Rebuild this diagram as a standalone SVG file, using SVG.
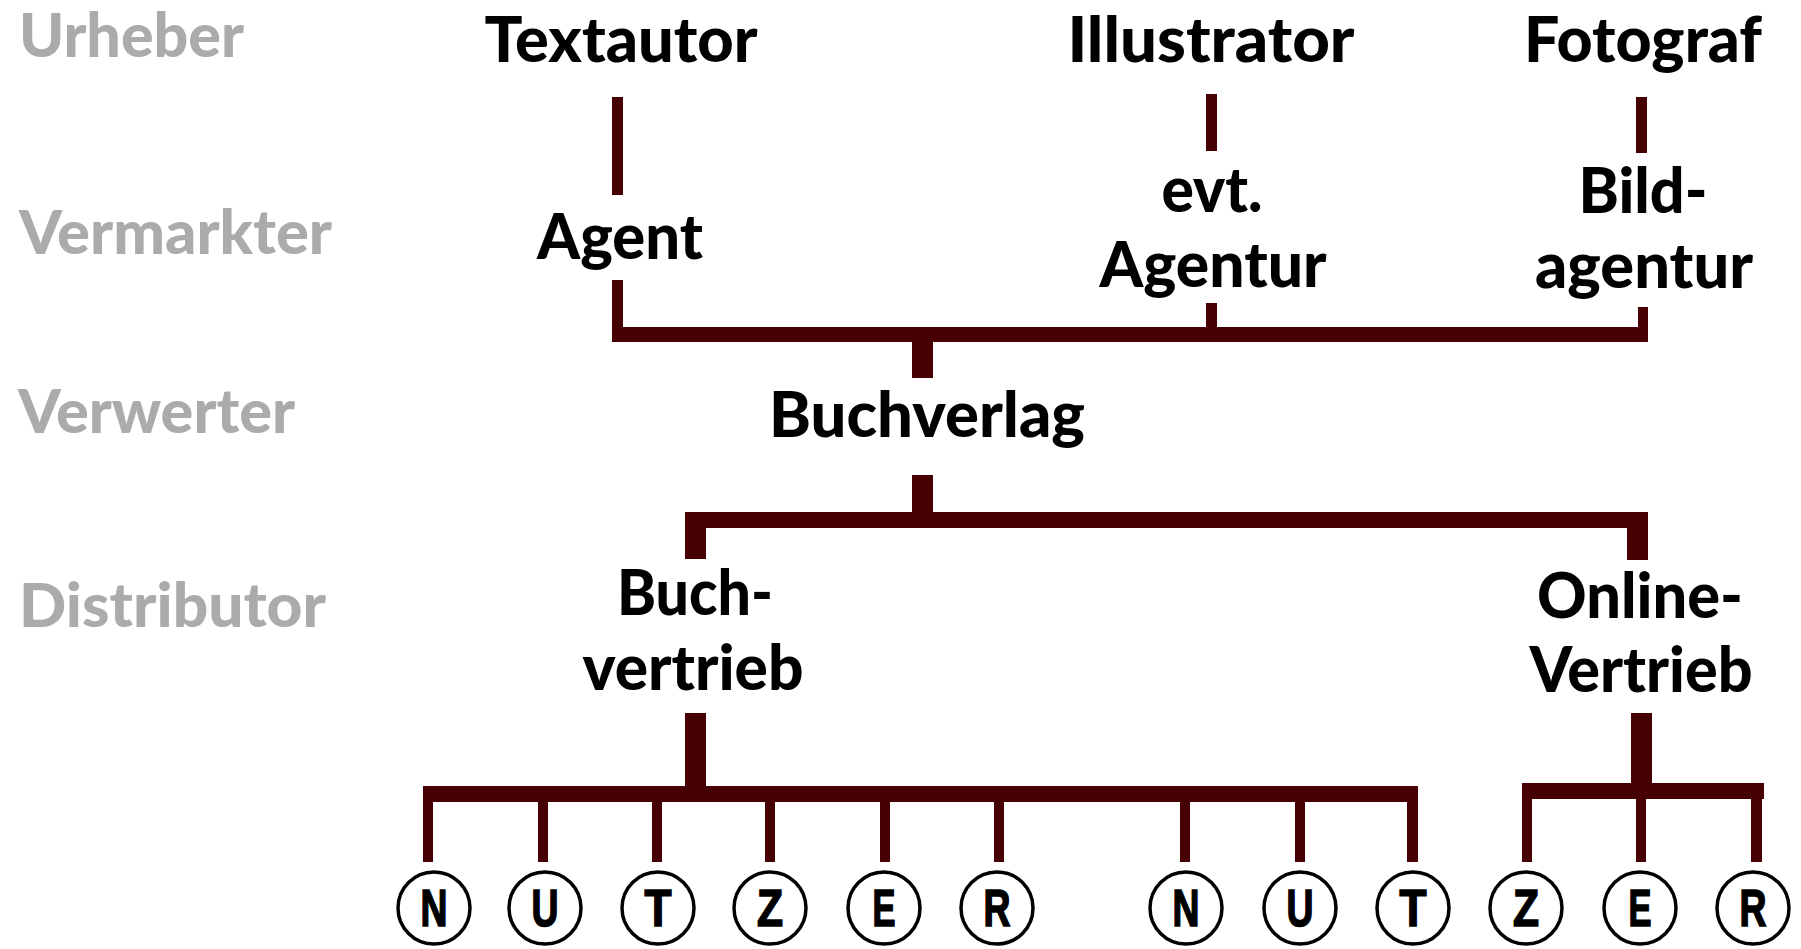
<svg xmlns="http://www.w3.org/2000/svg" width="1801" height="949" viewBox="0 0 1801 949">
<style>
.lbl{font-family:Lato,"Noto Sans",sans-serif;font-weight:900;font-size:60px;fill:#ababab}
.nd{font-family:Lato,"Noto Sans",sans-serif;font-weight:900;font-size:62px;fill:#000;text-anchor:middle}
.ltr{font-family:"Liberation Sans",Arial,sans-serif;font-weight:700;font-size:51px;fill:#000;stroke:#000;stroke-width:1.6;text-anchor:middle}
.c{fill:#fff;stroke:#000;stroke-width:3.5}
.ln{fill:#460003}
</style>
<rect width="1801" height="949" fill="#fff"/>
<g id="labels">
<text class="lbl" x="19" y="57" textLength="225" lengthAdjust="spacingAndGlyphs">Urheber</text>
<text class="lbl" x="19" y="254" textLength="313" lengthAdjust="spacingAndGlyphs">Vermarkter</text>
<text class="lbl" x="18" y="433" textLength="277" lengthAdjust="spacingAndGlyphs">Verwerter</text>
<text class="lbl" x="19" y="627" textLength="307" lengthAdjust="spacingAndGlyphs">Distributor</text>
</g>
<g id="connectors" class="ln">
<rect x="612" y="97" width="11" height="98"/>
<rect x="612" y="280" width="11" height="62"/>
<rect x="1206" y="94" width="11" height="57"/>
<rect x="1206" y="303" width="11" height="30"/>
<rect x="1636" y="97" width="11" height="56"/>
<rect x="1638" y="307" width="10" height="35"/>
<rect x="612" y="327" width="1036" height="15"/>
<rect x="912" y="327" width="21" height="51"/>
<rect x="912" y="475" width="21" height="45"/>
<rect x="685" y="512" width="963" height="16"/>
<rect x="685" y="512" width="21" height="47"/>
<rect x="1627" y="512" width="21" height="48"/>
<rect x="685" y="713" width="21" height="80"/>
<rect x="1631" y="713" width="21" height="75"/>
<rect x="423" y="786" width="995" height="16"/>
<rect x="1522" y="783" width="242" height="16"/>
<rect x="423" y="786" width="10" height="76"/>
<rect x="538" y="786" width="10" height="76"/>
<rect x="652" y="786" width="10" height="76"/>
<rect x="765" y="786" width="10" height="76"/>
<rect x="880" y="786" width="10" height="76"/>
<rect x="994" y="786" width="10" height="76"/>
<rect x="1180" y="786" width="10" height="76"/>
<rect x="1295" y="786" width="10" height="76"/>
<rect x="1407" y="786" width="11" height="76"/>
<rect x="1522" y="783" width="10" height="79"/>
<rect x="1636" y="783" width="10" height="79"/>
<rect x="1751" y="783" width="11" height="79"/>
</g>
<g id="textautor"><text class="nd" x="621" y="62" textLength="273" lengthAdjust="spacingAndGlyphs">Textautor</text></g>
<g id="illustrator"><text class="nd" x="1211" y="62" textLength="287" lengthAdjust="spacingAndGlyphs">Illustrator</text></g>
<g id="fotograf"><text class="nd" x="1643" y="62" textLength="238" lengthAdjust="spacingAndGlyphs">Fotograf</text></g>
<g id="agent"><text class="nd" x="620" y="259" textLength="166" lengthAdjust="spacingAndGlyphs">Agent</text></g>
<g id="agentur"><text class="nd" x="1212" y="212" textLength="101" lengthAdjust="spacingAndGlyphs">evt.</text><text class="nd" x="1213" y="287" textLength="227" lengthAdjust="spacingAndGlyphs">Agentur</text></g>
<g id="bildagentur"><text class="nd" x="1643" y="213" textLength="129" lengthAdjust="spacingAndGlyphs">Bild-</text><text class="nd" x="1644" y="288" textLength="218" lengthAdjust="spacingAndGlyphs">agentur</text></g>
<g id="buchverlag"><text class="nd" x="927" y="437" textLength="316" lengthAdjust="spacingAndGlyphs">Buchverlag</text></g>
<g id="buchvertrieb"><text class="nd" x="695" y="615" textLength="156" lengthAdjust="spacingAndGlyphs">Buch-</text><text class="nd" x="693" y="690" textLength="221" lengthAdjust="spacingAndGlyphs">vertrieb</text></g>
<g id="onlinevertrieb"><text class="nd" x="1640" y="618" textLength="206" lengthAdjust="spacingAndGlyphs">Online-</text><text class="nd" x="1641" y="692" textLength="223" lengthAdjust="spacingAndGlyphs">Vertrieb</text></g>
<g id="nutzer1">
<circle class="c" cx="434" cy="908" r="36"/><text class="ltr" x="434" y="926" textLength="27" lengthAdjust="spacingAndGlyphs">N</text>
<circle class="c" cx="545" cy="908" r="36"/><text class="ltr" x="545" y="926" textLength="27" lengthAdjust="spacingAndGlyphs">U</text>
<circle class="c" cx="658" cy="908" r="36"/><text class="ltr" x="658" y="926" textLength="27" lengthAdjust="spacingAndGlyphs">T</text>
<circle class="c" cx="770" cy="908" r="36"/><text class="ltr" x="770" y="926" textLength="26" lengthAdjust="spacingAndGlyphs">Z</text>
<circle class="c" cx="884" cy="908" r="36"/><text class="ltr" x="884" y="926" textLength="23" lengthAdjust="spacingAndGlyphs">E</text>
<circle class="c" cx="997" cy="908" r="36"/><text class="ltr" x="997" y="926" textLength="27" lengthAdjust="spacingAndGlyphs">R</text>
</g>
<g id="nutzer2">
<circle class="c" cx="1186" cy="908" r="36"/><text class="ltr" x="1186" y="926" textLength="27" lengthAdjust="spacingAndGlyphs">N</text>
<circle class="c" cx="1300" cy="908" r="36"/><text class="ltr" x="1300" y="926" textLength="27" lengthAdjust="spacingAndGlyphs">U</text>
<circle class="c" cx="1413" cy="908" r="36"/><text class="ltr" x="1413" y="926" textLength="27" lengthAdjust="spacingAndGlyphs">T</text>
<circle class="c" cx="1526" cy="908" r="36"/><text class="ltr" x="1526" y="926" textLength="26" lengthAdjust="spacingAndGlyphs">Z</text>
<circle class="c" cx="1640" cy="908" r="36"/><text class="ltr" x="1640" y="926" textLength="23" lengthAdjust="spacingAndGlyphs">E</text>
<circle class="c" cx="1753" cy="908" r="36"/><text class="ltr" x="1753" y="926" textLength="27" lengthAdjust="spacingAndGlyphs">R</text>
</g>
</svg>
